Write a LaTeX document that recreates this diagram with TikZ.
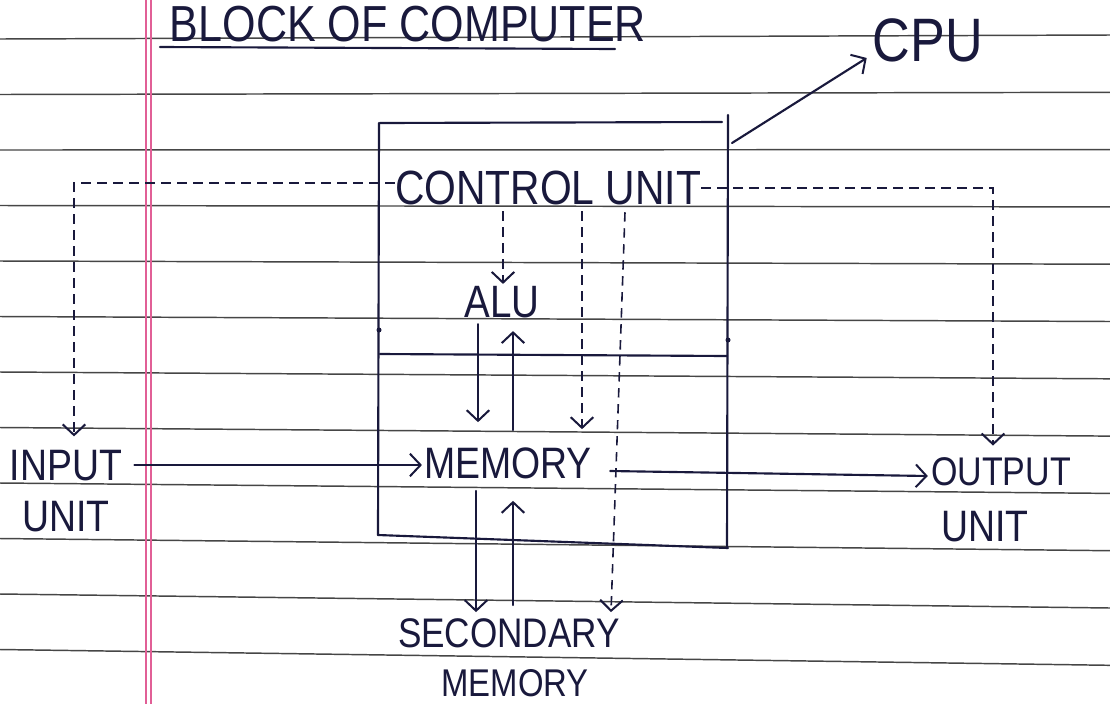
\documentclass[tikz,border=0pt]{standalone}
\usepackage{fontspec}
\setmainfont{Liberation Sans}[FakeStretch=0.85]
\usetikzlibrary{arrows.meta,calc}
\definecolor{ink}{RGB}{25,25,60}
\definecolor{rulegray}{RGB}{70,70,70}
\definecolor{marginpink}{RGB}{225,95,150}
\begin{document}
\begin{tikzpicture}[x=0.75pt,y=-0.75pt,
  inkline/.style={draw=ink, line width=1.6pt, line cap=round},
  dsh/.style={draw=ink, line width=1.2pt, dash pattern=on 7pt off 5pt},
  tip/.style={-{Straight Barb[length=8pt,width=17pt,line width=1.5pt]}},
  lbl/.style={text=ink, inner sep=0pt, font=\fontsize{33}{36}\selectfont},
  ruled/.style={draw=rulegray, line width=1.1pt},
]
\fill[white] (0,0) rectangle (1110,704);
\path[use as bounding box] (0,0) rectangle (1110,704);
% ruled paper
\foreach \i in {0,...,11} \draw[ruled] (0,{39+55.5*\i}) -- (1110,{35+57.3*\i});
\draw[marginpink, line width=0.8pt] (146,0) -- (146,704);
\draw[marginpink, line width=0.8pt] (151,0) -- (151,704);

% labels
\node[lbl, font=\fontsize{38}{40}\selectfont] (title) at (408,24) {BLOCK OF COMPUTER};
\draw[inkline] (160,47) -- (615,49);
\node[lbl, font=\fontsize{46}{48}\selectfont] (cpu) at (928,40) {CPU};
\node[lbl, font=\fontsize{36}{38}\selectfont] (cu) at (548,188) {CONTROL UNIT};
\node[lbl, font=\fontsize{34}{36}\selectfont] (alu) at (502,302) {ALU};
\node[lbl] (mem) at (508,463) {MEMORY};
\node[lbl] (inp) at (66,466) {INPUT};
\node[lbl] (inpu) at (66,517) {UNIT};
\node[lbl, font=\fontsize{30}{32}\selectfont] (out) at (1001,472) {OUTPUT};
\node[lbl, font=\fontsize{33}{35}\selectfont] (outu) at (985,527) {UNIT};
\node[lbl, font=\fontsize{31}{33}\selectfont] (sec) at (509,633) {SECONDARY};
\node[lbl, font=\fontsize{29}{31}\selectfont] (secm) at (515,683) {MEMORY};

% CPU box
\draw[inkline] (380,123) -- (722,122);
\draw[inkline] (728,115) -- (727,548);
\draw[inkline] (379,123) -- (378,535);
\draw[inkline] (378,535) -- (728,548);
\draw[inkline] (380,354) -- (727,356);
\fill[ink] (379,330) circle (2.5);
\fill[ink] (728,340) circle (2.5);

% CPU pointer
\coordinate (cpustart) at (732,143);
\draw[inkline, tip] (cpustart) -- ($(cpu.south west)+(-6,-4)$);

% control signals (dashed)
\draw[dsh, tip] ($(cu.west)+(0,-5)$) -| ($(inp.north)+(8,-14)$);
\draw[dsh, tip] (cu.east) -| ($(out.north)+(-8,-12)$);
\draw[dsh, tip] ($(cu.south)+(-45,6)$) -- ($(alu.north)+(1,-2)$);
\draw[dsh, tip] ($(cu.south)+(34,6)$) -- ($(mem.north)+(74,-18)$);
\draw[dsh, tip] ($(cu.south)+(77,7)$) -- ($(sec.north)+(102,-6)$);

% data flow (solid)
\draw[inkline, tip] ($(alu.south)+(-24,6)$) -- ($(mem.north)+(-30,-25)$);
\draw[inkline, tip] ($(mem.north)+(5,-17)$) -- ($(alu.south)+(11,13)$);
\draw[inkline, tip] ($(mem.south)+(-32,12)$) -- ($(sec.north)+(-33,-6)$);
\draw[inkline, tip] ($(sec.north)+(4,-13)$) -- ($(mem.south)+(5,22)$);
\draw[inkline, tip] ($(inp.east)+(12,-1)$) -- ($(mem.west)+(-2,2)$);
\draw[inkline, tip] ($(mem.east)+(18,8)$) -- ($(out.west)+(-3,4)$);
\end{tikzpicture}
\end{document}
